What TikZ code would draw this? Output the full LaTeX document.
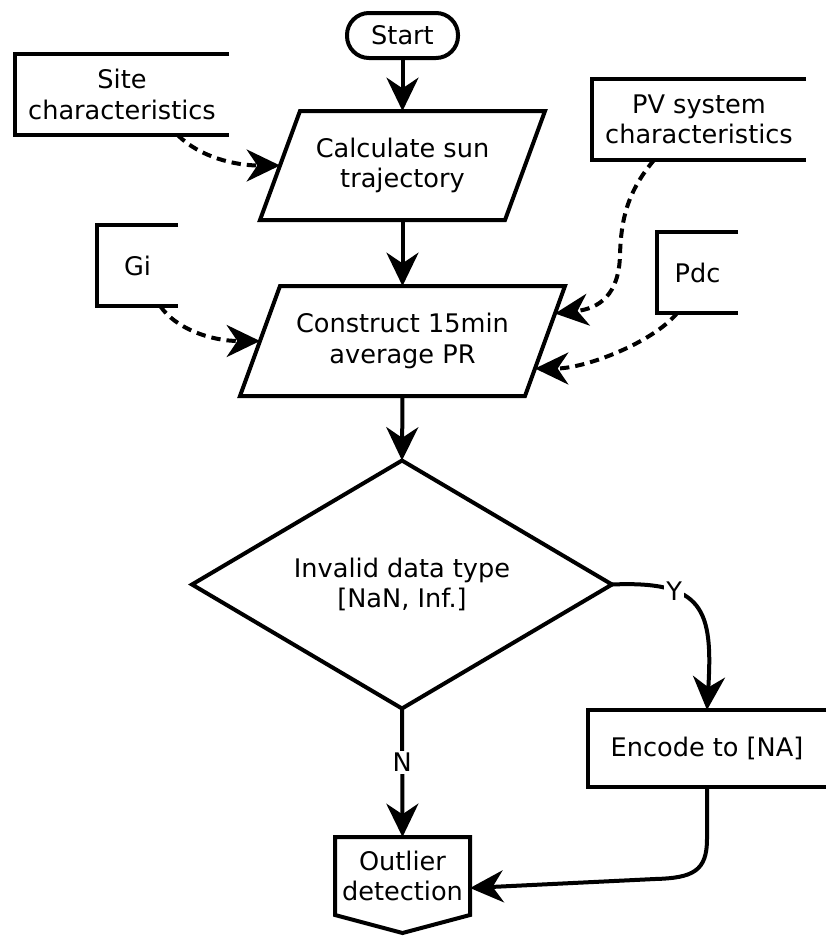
\documentclass[tikz,border=0pt]{standalone}
\usepackage{fontspec}
\setmainfont{DejaVu Sans}
\usetikzlibrary{arrows.meta,calc}
\newcommand{\PX}{0.75pt}
\begin{document}
\begin{tikzpicture}[x=0.75pt,y=-0.75pt,
  font=\fontsize{19.2}{23}\selectfont,
  line width=3pt,
  box/.style={draw=none, inner sep=0pt, outer sep=0pt, align=center},
  flow/.style={-{Stealth[length=25pt,width=24pt,inset=8pt]}},
  dflow/.style={flow, dash pattern=on 7pt off 4.5pt},
  lbl/.style={fill=white, inner sep=1.5pt}
]
\useasboundingbox (0,0) rectangle (826,936);

% ---- nodes ----
\node[box, minimum width=111*\PX, minimum height=45*\PX] (start) at (402.5,35.5) {Start};
\node[box, minimum width=245*\PX, minimum height=109*\PX] (calc) at (402.5,165.5) {Calculate sun\\trajectory};
\node[box, minimum width=285*\PX, minimum height=110*\PX] (cons) at (402.5,341) {Construct 15min\\average PR};
\node[box, minimum width=420*\PX, minimum height=248*\PX] (dec) at (402,584.5) {Invalid data type\\{[NaN, Inf.]}};
\node[box, minimum width=238*\PX, minimum height=77*\PX] (enc) at (707,748.5) {Encode to [NA]};
\node[box, minimum width=135*\PX, minimum height=78*\PX] (outl) at (402.5,876) {Outlier\\detection};
\node[box, minimum width=214*\PX, minimum height=81*\PX] (site) at (122,94.5) {Site\\characteristics};
\node[box, minimum width=81*\PX, minimum height=81*\PX] (gi) at (137.5,265.5) {Gi};
\node[box, minimum width=214*\PX, minimum height=81*\PX] (pv) at (699,119.5) {PV system\\characteristics};
\node[box, minimum width=81*\PX, minimum height=81*\PX] (pdc) at (697.5,272.5) {Pdc};

% ---- outlines ----
\draw[rounded corners=16.5pt] (start.south west) rectangle (start.north east);

\coordinate (calcTL) at ($(calc.north west)+(20,0)$);
\coordinate (calcTR) at ($(calc.north east)+(20,0)$);
\coordinate (calcBR) at ($(calc.south east)+(-20,0)$);
\coordinate (calcBL) at ($(calc.south west)+(-20,0)$);
\draw (calcTL) -- (calcTR) -- (calcBR) -- (calcBL) -- cycle;

\coordinate (consTL) at ($(cons.north west)+(20,0)$);
\coordinate (consTR) at ($(cons.north east)+(20,0)$);
\coordinate (consBR) at ($(cons.south east)+(-20,0)$);
\coordinate (consBL) at ($(cons.south west)+(-20,0)$);
\draw (consTL) -- (consTR) -- (consBR) -- (consBL) -- cycle;

\draw (dec.north) -- (dec.east) -- (dec.south) -- (dec.west) -- cycle;

\draw (enc.north east) -- (enc.north west) -- (enc.south west) -- (enc.south east);

\draw (outl.south west) -- (outl.north west) -- (outl.north east) -- (outl.south east)
      -- ($(outl.south)+(0,18)$) -- cycle;

\draw (site.north east) -- (site.north west) -- (site.south west) -- (site.south east);
\draw (gi.north east) -- (gi.north west) -- (gi.south west) -- (gi.south east);
\draw (pv.north east) -- (pv.north west) -- (pv.south west) -- (pv.south east);
\draw (pdc.north east) -- (pdc.north west) -- (pdc.south west) -- (pdc.south east);

% ---- main flow ----
\draw[flow] (start.south) -- (calc.north);
\draw[flow] (calc.south) -- (cons.north);
\draw[flow] (cons.south) -- (dec.north);
\draw[flow] (dec.east) .. controls +(92,-4) and +(6,-100) .. node[lbl,pos=0.3] {Y} (enc.north);
\draw[flow] (dec.south) -- node[lbl,pos=0.42] {N} (outl.north);
\draw[flow] (enc.south) -- ++(0,52) .. controls +(0,32) and +(38,-1) .. ++(-52,40)
      -- ($(outl.east)+(0,12)$);

% ---- data inputs (dashed) ----
\draw[dflow] ($(site.south west)!0.76!(site.south east)$) .. controls +(22,22) and +(-45,0) .. (calc.west);
\draw[dflow] ($(gi.south west)!0.78!(gi.south east)$) .. controls +(15,22) and +(-50,0) .. (cons.west);
\draw[dflow] ($(pv.south west)!0.29!(pv.south east)$) .. controls +(-27,32) and +(1,-35) .. (620,255)
      .. controls +(-1,40) and +(44,-5) .. ($(consTR)!0.25!(consBR)$);
\draw[dflow] ($(pdc.south west)!0.25!(pdc.south east)$) .. controls +(-25,30) and +(50,0) .. ($(consTR)!0.75!(consBR)$);
\end{tikzpicture}
\end{document}
